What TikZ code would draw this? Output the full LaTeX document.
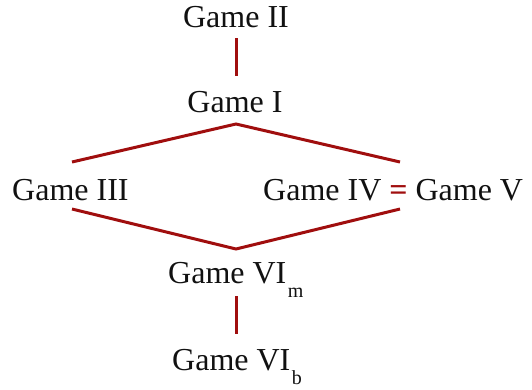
\documentclass[tikz,border=0pt]{standalone}
\usepackage{fontspec}
\setmainfont{Liberation Serif}
\definecolor{lnred}{HTML}{A00E0E}
\definecolor{txt}{HTML}{111111}
\newcommand{\subtxt}[1]{\hspace{1.5pt}\raisebox{-14pt}{\fontsize{20}{23}\selectfont #1}}
\begin{document}
\begin{tikzpicture}[x=1pt,y=-1pt,
  game/.style={inner sep=0pt,anchor=base,text=txt,font=\fontsize{32}{38}\selectfont},
  link/.style={draw=lnred,line width=3pt}]
\useasboundingbox (0,0) rectangle (532,389);
\node[game] (g2) at (236,27) {Game II};
\node[game] (g1) at (235,112) {Game I};
\node[game,anchor=base west] (g3) at (12,200) {Game III};
\node[game,anchor=base west] (g45) at (263,200) {Game IV {\color{lnred}\bfseries =} Game V};
\node[game,anchor=base west] (g6m) at (168,283) {Game VI\subtxt{m}};
\node[game,anchor=base west] (g6b) at (172,370) {Game VI\subtxt{b}};
\coordinate (a2) at (236,38);
\coordinate (a1) at (236,76);
\coordinate (top) at (236,124);
\coordinate (l1) at (72,162);
\coordinate (r1) at (400,162);
\coordinate (l2) at (72,209);
\coordinate (r2) at (400,209);
\coordinate (bot) at (236,249);
\coordinate (b1) at (236,296);
\coordinate (b2) at (236,334);
\draw[link] (a2) -- (a1);
\draw[link] (l1) -- (top) -- (r1);
\draw[link] (l2) -- (bot) -- (r2);
\draw[link] (b1) -- (b2);
\end{tikzpicture}
\end{document}
